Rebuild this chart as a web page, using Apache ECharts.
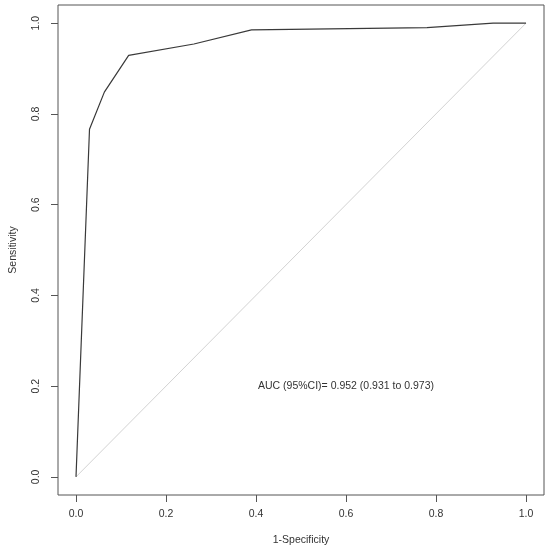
<!DOCTYPE html>
<html>
<head>
<meta charset="utf-8">
<script src="https://cdn.jsdelivr.net/npm/echarts@6/dist/echarts.min.js"></script>
<style>
html,body{margin:0;padding:0;background:#fff;}
#chart{width:550px;height:553px;}
</style>
</head>
<body>
<div id="chart"></div>
<script>
// ROC curve points (1-Specificity, Sensitivity)
const fpr = [0, 0.03, 0.063, 0.117, 0.262, 0.39, 0.78, 0.927, 1.0];
const tpr = [0, 0.766, 0.848, 0.929, 0.954, 0.985, 0.99, 1.0, 1.0];
// Reference diagonal
const diagX = [0, 1];
const diagY = [0, 1];
// Tick values
const xTicks = [0, 0.2, 0.4, 0.6, 0.8, 1.0];
const yTicks = [0, 0.2, 0.4, 0.6, 0.8, 1.0];
// Annotation
const aucText = 'AUC (95%CI)= 0.952 (0.931 to 0.973)';
const aucPos = [0.6, 0.2];

const FONT = 'Liberation Sans, Arial, sans-serif';
const TXT = '#333';

const chart = echarts.init(document.getElementById('chart'), null, {renderer: 'canvas'});
chart.setOption({
  animation: false,
  backgroundColor: '#fff',
  grid: {left: 55, top: 5, width: 489, height: 490, containLabel: false,
         show: true, borderColor: '#555', borderWidth: 1, backgroundColor: 'transparent'},
  xAxis: {
    type: 'value', min: -0.04, max: 1.04,
    name: '1-Specificity', nameLocation: 'middle', nameGap: 40,
    nameTextStyle: {fontFamily: FONT, fontSize: 10.5, color: TXT},
    axisLine: {show: false, onZero: false},
    splitLine: {show: false},
    axisTick: {show: true, inside: false, length: 7, customValues: xTicks, lineStyle: {color: '#555'}},
    axisLabel: {customValues: xTicks, margin: 14, fontFamily: FONT, fontSize: 10.5, color: TXT,
                formatter: v => v.toFixed(1)}
  },
  yAxis: {
    type: 'value', min: -0.04, max: 1.04,
    name: 'Sensitivity', nameLocation: 'middle', nameGap: 39, nameRotate: 90,
    nameTextStyle: {fontFamily: FONT, fontSize: 10.5, color: TXT},
    axisLine: {show: false, onZero: false},
    splitLine: {show: false},
    axisTick: {show: true, inside: false, length: 7, customValues: yTicks, lineStyle: {color: '#555'}},
    axisLabel: {customValues: yTicks, margin: 16, rotate: 90, fontFamily: FONT, fontSize: 10.5, color: TXT,
                formatter: v => v.toFixed(1)}
  },
  series: [
    {
      type: 'line', silent: true, symbol: 'none',
      data: diagX.map((x, i) => [x, diagY[i]]),
      lineStyle: {color: '#d3d3d3', width: 1}
    },
    {
      type: 'line', silent: true, symbol: 'none',
      data: fpr.map((x, i) => [x, tpr[i]]),
      lineStyle: {color: '#3a3a3a', width: 1.2}
    },
    {
      type: 'scatter', silent: true, symbolSize: 1,
      itemStyle: {color: 'transparent', opacity: 1},
      data: [aucPos],
      label: {show: true, position: 'inside', formatter: aucText, opacity: 1,
              fontFamily: FONT, fontSize: 10.5, color: TXT}
    }
  ]
});
</script>
</body>
</html>
